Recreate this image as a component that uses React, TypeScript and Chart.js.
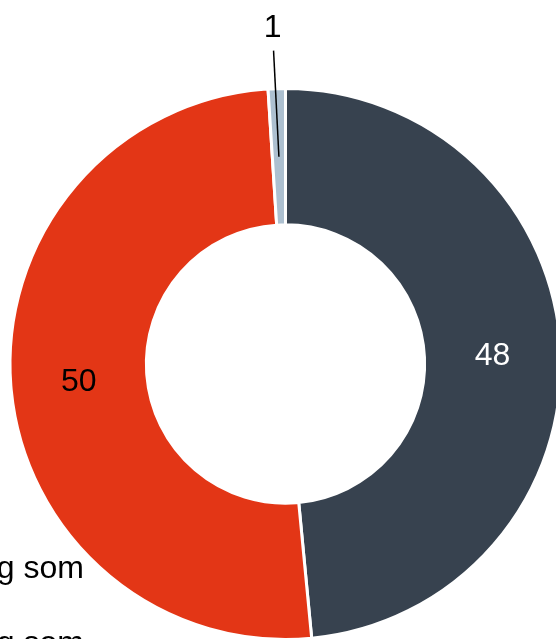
import React, { useEffect, useRef } from "react";
import { Chart, registerables } from "chart.js";

Chart.register(...registerables);

const categories = ["Kategori A", "Kategori B", "Kategori C"];
const values = [48, 50, 1];
const colors = ["#37424f", "#e33616", "#adc0d0"];
const labelColors = ["#ffffff", "#000000", "#000000"];
const legendLines = ["Förändring som", "Förändring som"];

const FONT = '32px "Liberation Sans", Arial, sans-serif';

const labelPlugin = {
  id: "sliceLabels",
  afterDatasetsDraw(chart: any) {
    const ctx = chart.ctx;
    const meta = chart.getDatasetMeta(0);
    ctx.save();
    ctx.font = FONT;
    ctx.textAlign = "center";
    ctx.textBaseline = "middle";
    meta.data.forEach((arc: any, i: number) => {
      const { x, y, startAngle, endAngle, innerRadius, outerRadius } = arc.getProps(
        ["x", "y", "startAngle", "endAngle", "innerRadius", "outerRadius"],
        true
      );
      const mid = (startAngle + endAngle) / 2;
      const r = (innerRadius + outerRadius) / 2;
      const text = String(values[i]);
      const span = endAngle - startAngle;
      if (span > 0.3) {
        ctx.fillStyle = labelColors[i];
        ctx.fillText(text, x + Math.cos(mid) * r, y + Math.sin(mid) * r + 2);
      } else {
        const r1 = r;
        const r2 = outerRadius + 38;
        ctx.strokeStyle = "#000000";
        ctx.lineWidth = 1.5;
        ctx.beginPath();
        ctx.moveTo(x + Math.cos(mid) * r1, y + Math.sin(mid) * r1);
        ctx.lineTo(x + Math.cos(mid) * r2 - 2, y + Math.sin(mid) * r2);
        ctx.stroke();
        ctx.fillStyle = "#000000";
        ctx.fillText(text, x + Math.cos(mid) * r2 - 3, y + Math.sin(mid) * r2 - 22);
      }
    });
    ctx.restore();
  },
  beforeDatasetsDraw(chart: any) {
    const ctx = chart.ctx;
    ctx.save();
    ctx.font = FONT;
    ctx.textAlign = "right";
    ctx.textBaseline = "alphabetic";
    ctx.fillStyle = "#000000";
    legendLines.forEach((t, i) => {
      ctx.fillText(t, 84, 578 + i * 75);
    });
    ctx.restore();
  },
};

export default function App() {
  const ref = useRef<HTMLCanvasElement | null>(null);
  useEffect(() => {
    if (!ref.current) return;
    const chart = new Chart(ref.current, {
      type: "doughnut",
      data: {
        labels: categories,
        datasets: [
          {
            data: values,
            backgroundColor: colors,
            borderColor: "#ffffff",
            borderWidth: 3,
          },
        ],
      },
      options: {
        responsive: false,
        animation: false,
        cutout: "50.5%",
        layout: { padding: { left: 8.5, top: 87, right: 37.5, bottom: 59 } },
        plugins: {
          legend: { display: false },
          tooltip: { enabled: false },
        },
      },
      plugins: [labelPlugin],
    });
    return () => chart.destroy();
  }, []);
  return (
    <div
      style={{
        position: "fixed",
        left: 0,
        top: 0,
        width: 556,
        height: 639,
        overflow: "hidden",
        background: "#ffffff",
      }}
    >
      <canvas ref={ref} width={600} height={700} style={{ display: "block", width: 600, height: 700 }} />
    </div>
  );
}
